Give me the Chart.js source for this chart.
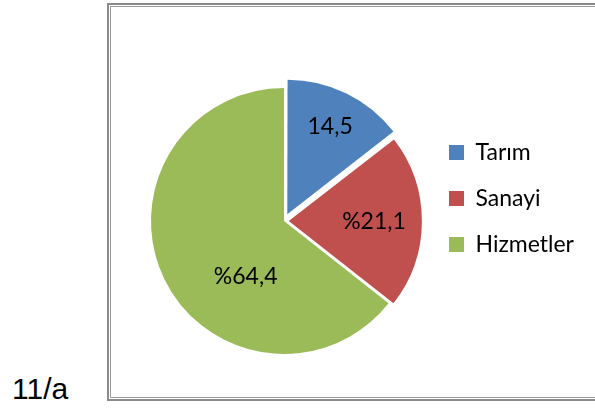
<!DOCTYPE html>
<html>
<head>
<meta charset="utf-8">
<script src="https://cdn.jsdelivr.net/npm/chart.js@4/dist/chart.umd.min.js"></script>
<style>
  html, body { margin: 0; padding: 0; width: 595px; height: 408px; overflow: hidden; background: #fff; }
  #c { position: absolute; left: 0; top: 0; }
  .frameOuter { position: absolute; left: 107px; top: 3px; width: 600px; height: 398px; box-sizing: border-box; border: 2px solid #8a8a8a; border-right: none; }
  .frameInner { position: absolute; left: 110px; top: 6px; width: 600px; height: 392px; box-sizing: border-box; border: 1px solid #9a9a9a; border-right: none; }
  .tag { position: absolute; left: 12px; top: 374px; font-family: "Liberation Sans", Arial, sans-serif; font-size: 30px; color: #000; line-height: 1; }
</style>
</head>
<body>
<div class="frameOuter"></div>
<div class="frameInner"></div>
<div class="tag">11/a</div>
<canvas id="c" width="620" height="408"></canvas>
<script>
const categories = ['Tarım', 'Sanayi', 'Hizmetler'];
const values = [14.5, 21.1, 64.4];
const valueLabels = ['14,5', '%21,1', '%64,4'];
const sliceColors = ['#4F81BD', '#C0504D', '#9BBB59'];
const sliceOffsets = [30, 19, 0];
// label placement: fraction of radius, and position along slice (0..1)
const labelRadiusFrac = [0.72, 0.64, 0.51];
const labelAlongFrac = [0.5, 0.5, 0.372];

const FONT = 'Lato, "Open Sans", sans-serif';

const pieLabels = {
  id: 'pieLabels',
  afterDatasetsDraw(chart) {
    const ctx = chart.ctx;
    const meta = chart.getDatasetMeta(0);
    ctx.save();
    ctx.font = '23px ' + FONT;
    ctx.fillStyle = '#000';
    ctx.textAlign = 'center';
    ctx.textBaseline = 'middle';
    meta.data.forEach((arc, i) => {
      const p = arc.getProps(['x', 'y', 'startAngle', 'endAngle', 'outerRadius', 'circumference']);
      const mid = (p.startAngle + p.endAngle) / 2;
      const off = (arc.options.offset || 0) / 4;
      const fix = 1 - Math.sin(Math.min(Math.PI, p.circumference || 0));
      const d = off * (1 + fix);
      const cx = p.x + Math.cos(mid) * d;
      const cy = p.y + Math.sin(mid) * d;
      const a = p.startAngle + labelAlongFrac[i] * (p.endAngle - p.startAngle);
      const r = p.outerRadius * labelRadiusFrac[i];
      ctx.fillText(valueLabels[i], cx + Math.cos(a) * r, cy + Math.sin(a) * r);
    });
    ctx.restore();
  }
};

new Chart(document.getElementById('c'), {
  type: 'pie',
  data: {
    labels: categories,
    datasets: [{
      data: values,
      backgroundColor: sliceColors,
      borderWidth: 0,
      offset: sliceOffsets,
      radius: 133
    }]
  },
  options: {
    responsive: false,
    devicePixelRatio: 1,
    animation: false,
    layout: { padding: { left: 142, top: 118, bottom: 84, right: 44 } },
    plugins: {
      tooltip: { enabled: false },
      legend: {
        position: 'right',
        align: 'start',
        maxWidth: 150,
        labels: {
          boxWidth: 15,
          boxHeight: 15,
          padding: 23,
          color: '#000',
          font: { family: FONT, size: 23 }
        }
      }
    }
  },
  plugins: [pieLabels]
});
</script>
</body>
</html>
